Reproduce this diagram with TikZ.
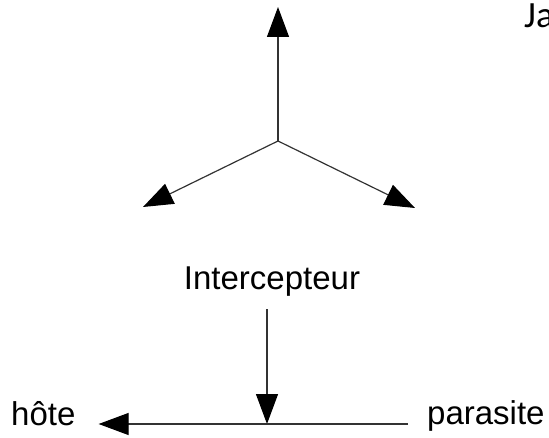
\documentclass[tikz,border=0pt]{standalone}
\usepackage{fontspec}
\setmainfont{Liberation Sans}
\newfontfamily\calibri{Carlito}
\usetikzlibrary{arrows.meta}

\begin{document}
\begin{tikzpicture}[x=1pt,y=-1pt]
\tikzstyle{fleche} = [draw=black!80, line width=1.2pt, -{Triangle[length=30pt,width=22pt,color=black]}];
\tikzstyle{mot} = [inner sep=0pt, font=\fontsize{33}{38}\selectfont];
\useasboundingbox (0,0) rectangle (549,438);

\coordinate (centre) at (278,141);
\coordinate (haut) at (278,7);
\coordinate (gauche) at (143,207);
\coordinate (droite) at (415,208);
\draw[fleche] (centre) -- (haut);
\draw[fleche] (centre) -- (gauche);
\draw[fleche] (centre) -- (droite);

\node[mot, anchor=base] (inter) at (272,290) {Intercepteur};
\node[mot, anchor=base west] (hote) at (11,425) {hôte};
\node[mot, anchor=base west] (para) at (427,424) {parasite};
\coordinate (milieu) at (267,424);
\node[anchor=base west, inner sep=0pt, font=\calibri\fontsize{37}{42}\selectfont] (ja) at (524,28) {Ja};

\draw[fleche, shorten <=12pt] (inter.south -| milieu) -- (milieu);
\draw[fleche, shorten <=19pt, shorten >=23pt] (para.west |- milieu) -- (hote.east |- milieu);
\end{tikzpicture}
\end{document}
